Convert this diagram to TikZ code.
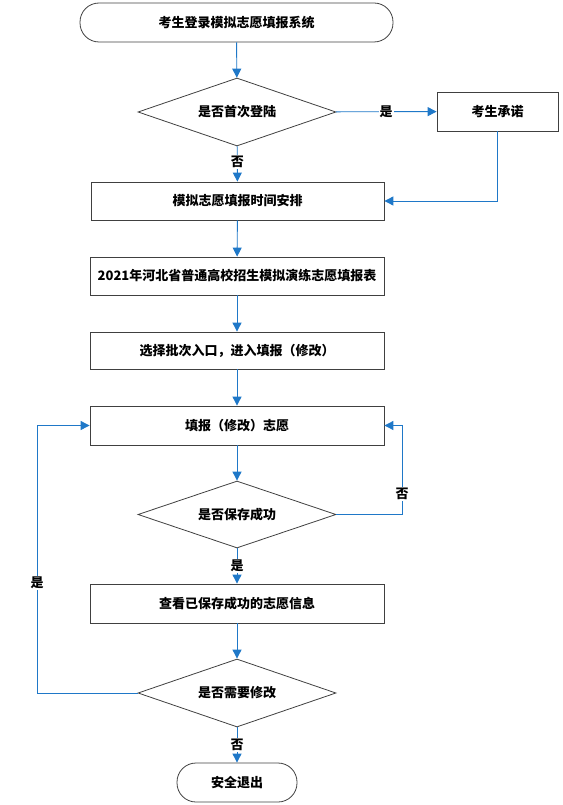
\documentclass[tikz,border=0pt]{standalone}
\usepackage{fontspec}
\setmainfont{Noto Sans CJK SC}
\usetikzlibrary{shapes.geometric,arrows.meta}
\definecolor{flowblue}{HTML}{1F78C8}
\definecolor{boxline}{HTML}{404040}
\tikzset{
  base/.style={draw=boxline,line width=0.8pt,font=\fontsize{13}{15}\selectfont\bfseries,inner sep=0pt,align=center},
  term/.style={base,rectangle,rounded corners=19pt},
  procbox/.style={base,rectangle},
  decide/.style={base,diamond,aspect=2.9},
  conn/.style={draw=flowblue,line width=0.9pt,-{Triangle[length=9pt,width=9pt]}},
  lbl/.style={font=\fontsize{13}{15}\selectfont\bfseries,fill=white,inner sep=1pt}
}
\begin{document}
\begin{tikzpicture}[x=1pt,y=-1pt]
\useasboundingbox (0,0) rectangle (562,805);
\node[term,minimum width=313pt,minimum height=39pt] (start) at (236.5,22.5) {考生登录模拟志愿填报系统};
\node[decide,minimum width=198pt,minimum height=68pt] (d1) at (237,112) {是否首次登陆};
\node[procbox,minimum width=121pt,minimum height=39pt] (promise) at (497.5,111.5) {考生承诺};
\node[procbox,minimum width=293pt,minimum height=38pt] (b1) at (237.5,201) {模拟志愿填报时间安排};
\node[procbox,minimum width=294pt,minimum height=38pt] (b2) at (237,276) {2021年河北省普通高校招生模拟演练志愿填报表};
\node[procbox,minimum width=294pt,minimum height=37pt] (b3) at (237,350.5) {选择批次入口，进入填报（修改）};
\node[procbox,minimum width=294pt,minimum height=39pt] (b4) at (237,425.5) {填报（修改）志愿};
\node[decide,minimum width=198pt,minimum height=67pt] (d2) at (237,514.5) {是否保存成功};
\node[procbox,minimum width=294pt,minimum height=39pt] (b5) at (237,603.5) {查看已保存成功的志愿信息};
\node[decide,minimum width=198pt,minimum height=68pt] (d3) at (237,693) {是否需要修改};
\node[term,minimum width=120pt,minimum height=39pt] (end) at (237,782.5) {安全退出};

\draw[conn] (start) -- (d1);
\draw[conn] (d1) -- node[lbl] {是} (promise);
\draw[conn] (d1) -- node[lbl,pos=0.45] {否} (b1);
\draw[conn] (promise.south) |- (b1.east);
\draw[conn] (b1) -- (b2);
\draw[conn] (b2) -- (b3);
\draw[conn] (b3) -- (b4);
\draw[conn] (b4) -- (d2);
\draw[conn] (d2) -- node[lbl] {是} (b5);
\draw[conn] (b5) -- (d3);
\draw[conn] (d3) -- node[lbl] {否} (end);
\coordinate (rturn) at (402,514.5);
\coordinate (lturn) at (37,693);
\draw[conn] (d2.east) -- (rturn) |- (b4.east);
\draw[conn] (d3.west) -- (lturn) |- (b4.west);
\node[lbl] (nolbl) at (402,494) {否};
\node[lbl] (yeslbl) at (37,583) {是};
\end{tikzpicture}
\end{document}
